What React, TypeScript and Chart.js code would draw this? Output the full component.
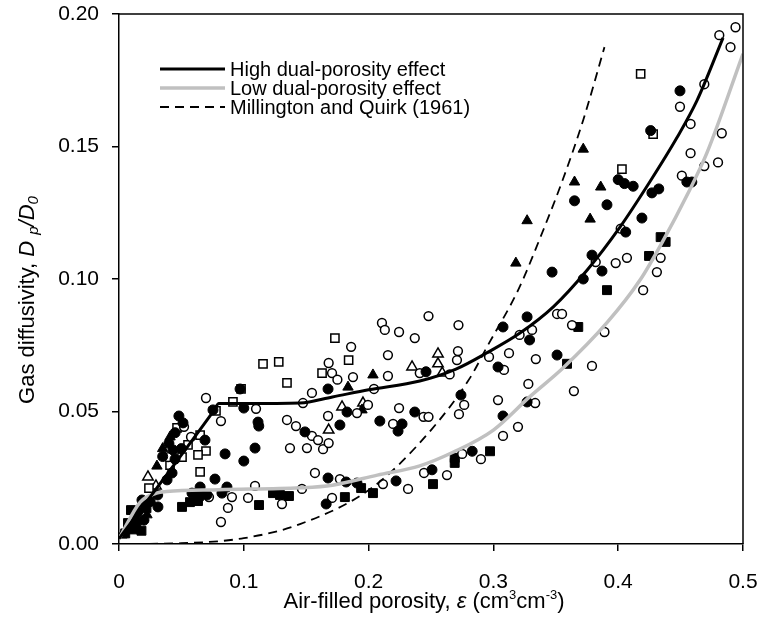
import React, { useEffect, useRef } from 'react';
import { Chart, registerables } from 'chart.js';

Chart.register(...registerables);

const FONT = "'Liberation Sans', Arial, sans-serif";

const xTickLabels = ['0', '0.1', '0.2', '0.3', '0.4', '0.5'];
const yTickLabels = ['0.00', '0.05', '0.10', '0.15', '0.20'];
const legendLabels = ['High dual-porosity effect', 'Low dual-porosity effect', 'Millington and Quirk (1961)'];

// [air-filled porosity, Dp/D0]
const filledCircles: [number, number][] = [
  [0.4495, 0.171], [0.426, 0.156], [0.4, 0.1375], [0.405, 0.136], [0.412, 0.135], [0.427, 0.1325],
  [0.4325, 0.134], [0.455, 0.1366], [0.459, 0.1366], [0.365, 0.1295], [0.391, 0.128], [0.419, 0.123],
  [0.406, 0.1177], [0.379, 0.109], [0.347, 0.1026], [0.387, 0.103], [0.372, 0.1], [0.327, 0.0857],
  [0.3077, 0.0819], [0.329, 0.077], [0.351, 0.0713], [0.3037, 0.0668], [0.246, 0.065], [0.274, 0.0562],
  [0.327, 0.0536], [0.3077, 0.0483], [0.283, 0.035], [0.2508, 0.028], [0.097, 0.0585], [0.1, 0.0513],
  [0.0753, 0.0506], [0.048, 0.0483], [0.0513, 0.0457], [0.0689, 0.0392], [0.109, 0.0362], [0.085, 0.034],
  [0.1, 0.0313], [0.1114, 0.046], [0.112, 0.0445], [0.1675, 0.0585], [0.149, 0.0423], [0.177, 0.0449],
  [0.1827, 0.0498], [0.209, 0.0464], [0.237, 0.0498], [0.2236, 0.0426], [0.2268, 0.0453], [0.0433, 0.0355],
  [0.0449, 0.032], [0.0425, 0.0268], [0.0385, 0.0242], [0.0769, 0.0245], [0.0865, 0.0215], [0.065, 0.0215],
  [0.0585, 0.0192], [0.0625, 0.0192], [0.0705, 0.0185], [0.0825, 0.0192], [0.031, 0.0185], [0.0312, 0.014],
  [0.1675, 0.0249], [0.182, 0.0234], [0.1907, 0.023], [0.222, 0.0238], [0.166, 0.0151], [0.0184, 0.0166],
  [0.045, 0.042], [0.04, 0.038], [0.035, 0.033], [0.05, 0.036], [0.01, 0.006], [0.02, 0.009],
  [0.015, 0.012], [0.025, 0.016],
];

const openCircles: [number, number][] = [
  [0.481, 0.192], [0.494, 0.195], [0.49, 0.1875], [0.469, 0.1735], [0.4495, 0.165], [0.458, 0.1585],
  [0.483, 0.155], [0.458, 0.1475], [0.469, 0.1426], [0.48, 0.144], [0.451, 0.139], [0.382, 0.1064],
  [0.398, 0.106], [0.407, 0.108], [0.434, 0.108], [0.431, 0.1026], [0.42, 0.0958], [0.402, 0.119],
  [0.351, 0.0868], [0.355, 0.0868], [0.363, 0.0826], [0.389, 0.08], [0.331, 0.0808], [0.321, 0.0789],
  [0.248, 0.086], [0.272, 0.0826], [0.2716, 0.0728], [0.2708, 0.0694], [0.3125, 0.072], [0.2965, 0.0706],
  [0.334, 0.0698], [0.3085, 0.0657], [0.379, 0.0672], [0.265, 0.064], [0.241, 0.0645], [0.3645, 0.0577],
  [0.328, 0.0604], [0.3335, 0.0532], [0.3037, 0.0543], [0.2766, 0.0525], [0.2724, 0.049], [0.244, 0.048],
  [0.248, 0.048], [0.3077, 0.0408], [0.3197, 0.0442], [0.275, 0.034], [0.29, 0.032], [0.2628, 0.026],
  [0.2444, 0.0268], [0.2107, 0.0834], [0.213, 0.0808], [0.2244, 0.08], [0.237, 0.0777], [0.186, 0.0744],
  [0.2155, 0.0713], [0.168, 0.0683], [0.1707, 0.0645], [0.1875, 0.063], [0.2155, 0.0634], [0.175, 0.062],
  [0.0697, 0.0551], [0.0817, 0.0464], [0.1098, 0.051], [0.1346, 0.0468], [0.1418, 0.0445], [0.1474, 0.0532],
  [0.1546, 0.057], [0.1675, 0.0483], [0.2043, 0.0585], [0.1546, 0.0408], [0.1595, 0.0392], [0.1635, 0.0358],
  [0.168, 0.0381], [0.1506, 0.0362], [0.137, 0.0362], [0.1907, 0.0494], [0.1995, 0.0525], [0.2196, 0.0453],
  [0.2244, 0.0513], [0.157, 0.0268], [0.177, 0.0245], [0.1466, 0.0208], [0.109, 0.0219], [0.1034, 0.0174],
  [0.0905, 0.0177], [0.0873, 0.0136], [0.0817, 0.0083], [0.1306, 0.0151], [0.0721, 0.0177], [0.1707, 0.0174],
  [0.2115, 0.0226], [0.2316, 0.0208], [0.0577, 0.0404], [0.0393, 0.0328], [0.0521, 0.0442],
];

const filledSquares: [number, number][] = [
  [0.434, 0.1158], [0.438, 0.114], [0.4247, 0.1087], [0.391, 0.0958], [0.368, 0.0819], [0.359, 0.068],
  [0.2973, 0.035], [0.269, 0.0325], [0.269, 0.0306], [0.2516, 0.0226], [0.0505, 0.014], [0.0569, 0.0158],
  [0.0633, 0.0162], [0.0641, 0.0181], [0.1122, 0.0147], [0.1234, 0.0192], [0.129, 0.0185], [0.1362, 0.0181],
  [0.181, 0.0177], [0.194, 0.0211], [0.2035, 0.0192], [0.0096, 0.0128], [0.0072, 0.0079], [0.014, 0.007],
  [0.0192, 0.0155], [0.022, 0.0135], [0.011, 0.0055], [0.018, 0.005], [0.005, 0.004], [0.013, 0.01],
];

const openSquares: [number, number][] = [
  [0.418, 0.1774], [0.428, 0.1547], [0.403, 0.1415], [0.173, 0.0777], [0.1154, 0.068], [0.128, 0.0687],
  [0.184, 0.0694], [0.1627, 0.0645], [0.1346, 0.0608], [0.0978, 0.0585], [0.0913, 0.0536], [0.0777, 0.0502],
  [0.0465, 0.0438], [0.065, 0.0411], [0.0697, 0.0351], [0.0633, 0.0336], [0.0553, 0.0374], [0.0505, 0.0328],
  [0.0409, 0.0298], [0.065, 0.0272], [0.024, 0.0211],
];

const filledTriangles: [number, number][] = [
  [0.372, 0.149], [0.365, 0.1366], [0.386, 0.1347], [0.327, 0.122], [0.3775, 0.1226], [0.318, 0.106],
  [0.2035, 0.0638], [0.1835, 0.0592], [0.1947, 0.0506], [0.0304, 0.0294], [0.0409, 0.0404], [0.0224, 0.011],
  [0.0024, 0.0034], [0.035, 0.036],
];

const openTriangles: [number, number][] = [
  [0.2556, 0.0717], [0.2556, 0.068], [0.259, 0.0645], [0.2348, 0.0668], [0.0232, 0.0253], [0.0296, 0.0219],
  [0.1787, 0.0517], [0.1955, 0.0532], [0.168, 0.043],
];

const highDualCurve: [number, number][] = [
  [0.0, 0.002], [0.076, 0.0503], [0.08, 0.053], [0.1, 0.053], [0.145, 0.0532], [0.171, 0.0555], [0.2, 0.0582],
  [0.241, 0.0615], [0.27, 0.066], [0.295, 0.0722], [0.321, 0.0795], [0.348, 0.0895], [0.375, 0.1033],
  [0.401, 0.1193], [0.4255, 0.1368], [0.447, 0.1533], [0.463, 0.1672], [0.484, 0.191],
];

const lowDualCurve: [number, number][] = [
  [0.0, 0.002], [0.017, 0.0158], [0.03, 0.0192], [0.038, 0.0198], [0.08, 0.0205], [0.145, 0.0212], [0.171, 0.0222],
  [0.207, 0.026], [0.241, 0.0295], [0.268, 0.0347], [0.3, 0.043], [0.329, 0.0555], [0.356, 0.0665],
  [0.391, 0.0835], [0.4175, 0.0996], [0.436, 0.1145], [0.455, 0.1315], [0.471, 0.1475], [0.5, 0.185],
];

const millingtonQuirk: [number, number][] = [
  [0.0, 0.0], [0.05, 0.0003], [0.1, 0.0022], [0.145, 0.0075], [0.2035, 0.0215], [0.25, 0.043],
  [0.281, 0.0625], [0.295, 0.0745], [0.32, 0.096], [0.34, 0.1185], [0.356, 0.138], [0.372, 0.16],
  [0.389, 0.1875],
];

const toXY = (arr: [number, number][]) => arr.map(([x, y]) => ({ x, y }));

const overlayPlugin = {
  id: 'overlay',
  afterDraw(chart: any) {
    const { ctx, chartArea: a } = chart;
    ctx.save();
    // top & right frame
    ctx.strokeStyle = '#000';
    ctx.lineWidth = 1.5;
    ctx.beginPath();
    ctx.moveTo(a.left, a.top);
    ctx.lineTo(a.right, a.top);
    ctx.lineTo(a.right, a.bottom);
    ctx.stroke();

    // legend
    const lines = chart.data.datasets.filter((d: any) => d.isCurve);
    const lx0 = 160, lx1 = 225, ly0 = 69, lstep = 19;
    lines.forEach((d: any, i: number) => {
      const y = ly0 + i * lstep;
      ctx.beginPath();
      ctx.strokeStyle = d.borderColor;
      ctx.lineWidth = d.borderWidth;
      ctx.setLineDash(d.borderDash || []);
      ctx.moveTo(lx0, y);
      ctx.lineTo(lx1, y);
      ctx.stroke();
      ctx.setLineDash([]);
      ctx.fillStyle = '#000';
      ctx.font = `20px ${FONT}`;
      ctx.textBaseline = 'middle';
      ctx.textAlign = 'left';
      ctx.fillText(d.label, 230, y + 1);
    });

    // x title
    const xs = 22;
    const xParts: { t: string; f: string; dy: number }[] = [
      { t: 'Air-filled porosity, ', f: `${xs}px ${FONT}`, dy: 0 },
      { t: 'ε', f: `italic ${xs}px ${FONT}`, dy: 0 },
      { t: ' (cm', f: `${xs}px ${FONT}`, dy: 0 },
      { t: '3', f: `${Math.round(xs * 0.6)}px ${FONT}`, dy: -9 },
      { t: 'cm', f: `${xs}px ${FONT}`, dy: 0 },
      { t: '-3', f: `${Math.round(xs * 0.6)}px ${FONT}`, dy: -9 },
      { t: ')', f: `${xs}px ${FONT}`, dy: 0 },
    ];
    ctx.textBaseline = 'alphabetic';
    ctx.fillStyle = '#000';
    let total = 0;
    xParts.forEach((p) => { ctx.font = p.f; total += ctx.measureText(p.t).width; });
    let cx = 424 - total / 2;
    const xb = 608;
    xParts.forEach((p) => {
      ctx.font = p.f;
      ctx.fillText(p.t, cx, xb + p.dy);
      cx += ctx.measureText(p.t).width;
    });

    // y title
    const ys = 22;
    const yParts: { t: string; f: string; dy: number }[] = [
      { t: 'Gas diffusivity, ', f: `${ys}px ${FONT}`, dy: 0 },
      { t: 'D ', f: `italic ${ys}px ${FONT}`, dy: 0 },
      { t: 'p', f: `italic ${Math.round(ys * 0.7)}px ${FONT}`, dy: 4 },
      { t: '/D', f: `italic ${ys}px ${FONT}`, dy: 0 },
      { t: '0', f: `italic ${Math.round(ys * 0.7)}px ${FONT}`, dy: 4 },
    ];
    let ytotal = 0;
    yParts.forEach((p) => { ctx.font = p.f; ytotal += ctx.measureText(p.t).width; });
    ctx.translate(34, 300);
    ctx.rotate(-Math.PI / 2);
    let cy = -ytotal / 2;
    yParts.forEach((p) => {
      ctx.font = p.f;
      ctx.fillText(p.t, cy, p.dy);
      cy += ctx.measureText(p.t).width;
    });
    ctx.restore();
  },
};

const zeroPadding = (s: any) => {
  s.paddingTop = 0;
  s.paddingBottom = 0;
  s.paddingLeft = 0;
  s.paddingRight = 0;
};

export default function App() {
  const canvasRef = useRef<HTMLCanvasElement | null>(null);

  useEffect(() => {
    if (!canvasRef.current) return;
    const markerBase = { showLine: false, order: 2, borderColor: '#000' };
    const chart = new Chart(canvasRef.current, {
      type: 'scatter',
      data: {
        datasets: [
          {
            label: legendLabels[0], data: toXY(highDualCurve), showLine: true, isCurve: true,
            borderColor: '#000', borderWidth: 3, pointRadius: 0, cubicInterpolationMode: 'monotone', order: 0,
          } as any,
          {
            label: legendLabels[1], data: toXY(lowDualCurve), showLine: true, isCurve: true,
            borderColor: '#c0c0c0', borderWidth: 3.5, pointRadius: 0, cubicInterpolationMode: 'monotone', order: 0,
          } as any,
          {
            label: legendLabels[2], data: toXY(millingtonQuirk), showLine: true, isCurve: true,
            borderColor: '#000', borderWidth: 1.8, borderDash: [9, 6], pointRadius: 0,
            cubicInterpolationMode: 'monotone', order: 0,
          } as any,
          { ...markerBase, label: 'filled circles', data: toXY(filledCircles), pointStyle: 'circle', pointRadius: 5, backgroundColor: '#000', borderWidth: 1 } as any,
          { ...markerBase, label: 'open circles', data: toXY(openCircles), pointStyle: 'circle', pointRadius: 4.4, backgroundColor: '#fff', borderWidth: 1.5 } as any,
          { ...markerBase, label: 'filled squares', data: toXY(filledSquares), pointStyle: 'rect', pointRadius: 6.3, backgroundColor: '#000', borderWidth: 1 } as any,
          { ...markerBase, label: 'open squares', data: toXY(openSquares), pointStyle: 'rect', pointRadius: 5.8, backgroundColor: '#fff', borderWidth: 1.5 } as any,
          { ...markerBase, label: 'filled triangles', data: toXY(filledTriangles), pointStyle: 'triangle', pointRadius: 6, backgroundColor: '#000', borderWidth: 1 } as any,
          { ...markerBase, label: 'open triangles', data: toXY(openTriangles), pointStyle: 'triangle', pointRadius: 6, backgroundColor: '#fff', borderWidth: 1.5 } as any,
        ],
      },
      options: {
        animation: false,
        responsive: true,
        maintainAspectRatio: false,
        layout: { padding: { top: 14, right: 19, left: 0, bottom: 0 } },
        plugins: { legend: { display: false }, tooltip: { enabled: false } },
        elements: { point: { hoverRadius: 5 } },
        scales: {
          x: {
            type: 'linear', min: 0, max: 0.5,
            afterFit: (s: any) => { s.height = 78; zeroPadding(s); },
            border: { display: true, color: '#000', width: 1.5 },
            grid: { drawOnChartArea: false, drawTicks: true, tickLength: 7, color: '#000', lineWidth: 1.5 },
            ticks: {
              stepSize: 0.1, padding: 19, color: '#000', font: { family: FONT, size: 21 },
              maxRotation: 0, autoSkip: false,
              callback: (v: any) => xTickLabels[Math.round(Number(v) * 10)] ?? '',
            },
          },
          y: {
            type: 'linear', min: 0, max: 0.2,
            afterFit: (s: any) => { s.width = 119; zeroPadding(s); },
            border: { display: true, color: '#000', width: 1.5 },
            grid: { drawOnChartArea: false, drawTicks: true, tickLength: 7, color: '#000', lineWidth: 1.5 },
            ticks: {
              stepSize: 0.05, padding: 13, color: '#000', font: { family: FONT, size: 21 },
              autoSkip: false,
              callback: (v: any) => yTickLabels[Math.round(Number(v) * 20)] ?? '',
            },
          },
        },
      } as any,
      plugins: [overlayPlugin],
    });
    return () => chart.destroy();
  }, []);

  return (
    <div style={{ position: 'fixed', left: 0, top: 0, width: 762, height: 622, background: '#fff' }}>
      <canvas ref={canvasRef} />
    </div>
  );
}
